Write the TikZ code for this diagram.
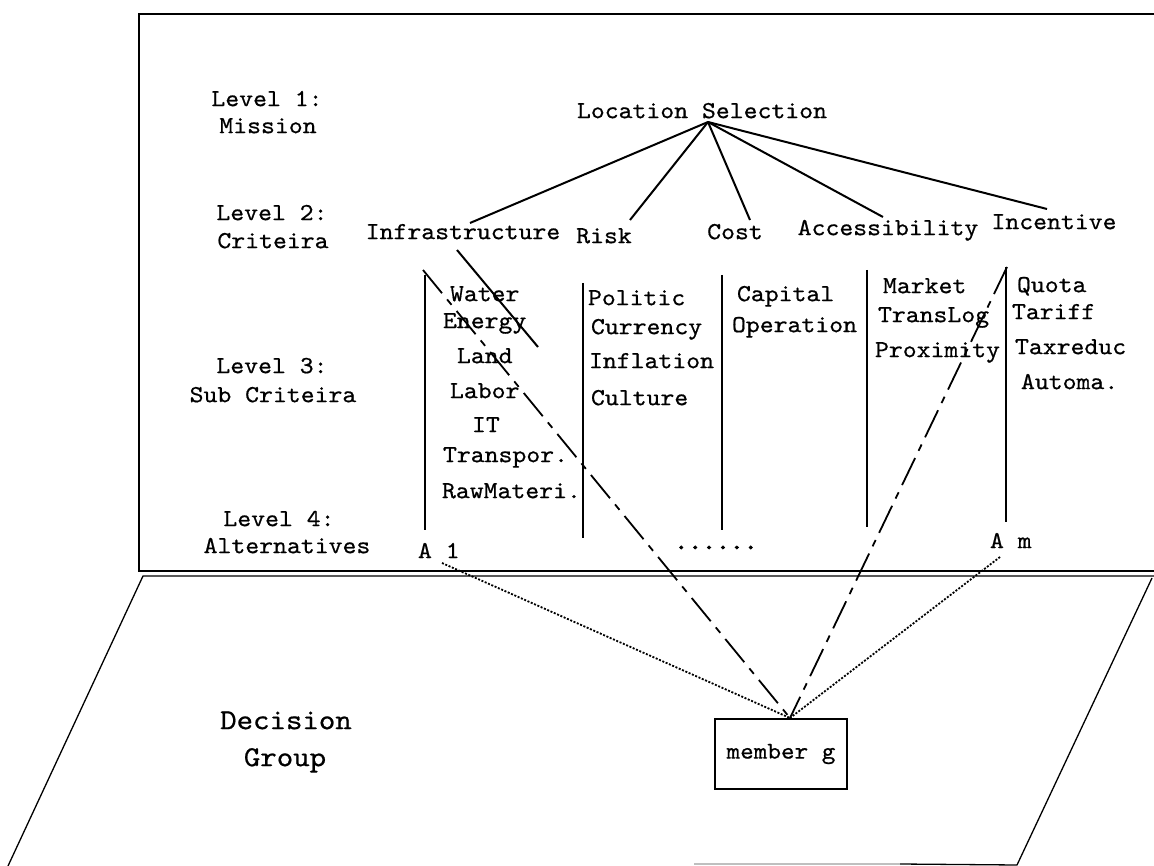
\documentclass[tikz,border=0pt]{standalone}
\usepackage{fontspec}
\newfontfamily\cour[FakeStretch=1.08,FakeBold=0.6]{lmmono10-regular.otf}
\newfontfamily\courdots[FakeStretch=1.08,FakeBold=3]{lmmono10-regular.otf}
\begin{document}
\begin{tikzpicture}[x=1pt,y=-1pt,
  txt/.style={inner sep=0pt,outer sep=0pt,font=\cour\fontsize{24.5}{27}\selectfont},
  big/.style={inner sep=0pt,outer sep=0pt,font=\cour\fontsize{29}{32}\selectfont},
  frame/.style={line width=1.8pt},
  plane/.style={line width=1.3pt},
  fan/.style={line width=2pt},
  vline/.style={line width=2.4pt},
  longdash/.style={line width=1.8pt,dash pattern=on 30pt off 8pt on 7pt off 8pt},
  dots/.style={line width=1.8pt,dash pattern=on 2pt off 1.6pt},
  member/.style={draw,line width=2pt,minimum width=132pt,minimum height=70pt,inner sep=0pt,font=\cour\fontsize{24}{26}\selectfont}]
\useasboundingbox (0,0) rectangle (1154,866);
\fill[white] (0,0) rectangle (1154,866);

% upper frame
\coordinate (fTL) at (139,14);
\coordinate (fTR) at (1154,14);
\coordinate (fBL) at (139,571);
\coordinate (fBR) at (1154,571);
\draw[frame] (fTR) -- (fTL) -- (fBL) -- (fBR);

% decision plane
\coordinate (pTL) at (143,576);
\coordinate (pTR) at (1154,576);
\coordinate (pBL) at (8,866);
\coordinate (pRT) at (1152,578);
\coordinate (pRB) at (1017,865);
\coordinate (pB1) at (694,864);
\coordinate (pB2) at (900,864);
\draw[plane] (pTR) -- (pTL) -- (pBL);
\draw[plane] (pRT) -- (pRB) -- (pB2);
\draw[plane,black!25] (pB2) -- (pB1);

% level labels
\node[txt,anchor=mid] (l1a) at (267,104) {Level 1:};
\node[txt,anchor=mid] (l1b) at (268,131) {Mission};
\node[txt,anchor=mid] (l2a) at (272,218) {Level 2:};
\node[txt,anchor=mid] (l2b) at (273,246) {Criteira};
\node[txt,anchor=mid] (l3a) at (272,371) {Level 3:};
\node[txt,anchor=mid] (l3b) at (273,400) {Sub Criteira};
\node[txt,anchor=mid] (l4a) at (279,524) {Level 4:};
\node[txt,anchor=mid] (l4b) at (287,551) {Alternatives};

% mission and criteria
\node[txt,anchor=mid] (goal) at (702,116) {Location Selection};
\node[txt,anchor=mid] (infra) at (463,237) {Infrastructure};
\node[txt,anchor=mid] (risk) at (604,241) {Risk};
\node[txt,anchor=mid] (cost) at (735,237) {Cost};
\node[txt,anchor=mid] (acc) at (888,233) {Accessibility};
\node[txt,anchor=mid] (inc) at (1054,227) {Incentive};

\coordinate (apexTop) at (708,122);
\coordinate (eInfra) at (470,223);
\coordinate (eRisk) at (630,220);
\coordinate (eCost) at (750,220);
\coordinate (eAcc) at (883,217);
\coordinate (eInc) at (1047,209);
\draw[fan] (apexTop) -- (eInfra);
\draw[fan] (apexTop) -- (eRisk);
\draw[fan] (apexTop) -- (eCost);
\draw[fan] (apexTop) -- (eAcc);
\draw[fan] (apexTop) -- (eInc);

% vertical separators
\coordinate (v1t) at (425,275); \coordinate (v1b) at (425,530);
\coordinate (v2t) at (583,283); \coordinate (v2b) at (583,538);
\coordinate (v3t) at (722,275); \coordinate (v3b) at (722,530);
\coordinate (v4t) at (867,270); \coordinate (v4b) at (867,527);
\coordinate (v5t) at (1006,267); \coordinate (v5b) at (1006,522);
\draw[vline] (v1t) -- (v1b);
\draw[vline] (v2t) -- (v2b);
\draw[vline] (v3t) -- (v3b);
\draw[vline] (v4t) -- (v4b);
\draw[vline] (v5t) -- (v5b);

% sub criteria
\node[txt,anchor=mid west] (s11) at (450,299) {Water};
\node[txt,anchor=mid west] (s12) at (443,326) {Energy};
\node[txt,anchor=mid west] (s13) at (457,361) {Land};
\node[txt,anchor=mid west] (s14) at (450,396) {Labor};
\node[txt,anchor=mid west] (s15) at (472,430) {IT};
\node[txt,anchor=mid west] (s16) at (443,460) {Transpor.};
\node[txt,anchor=mid west] (s17) at (442,496) {RawMateri.};

\node[txt,anchor=mid west] (s21) at (588,303) {Politic};
\node[txt,anchor=mid west] (s22) at (591,332) {Currency};
\node[txt,anchor=mid west] (s23) at (589,366) {Inflation};
\node[txt,anchor=mid west] (s24) at (591,403) {Culture};

\node[txt,anchor=mid west] (s31) at (737,299) {Capital};
\node[txt,anchor=mid west] (s32) at (732,330) {Operation};

\node[txt,anchor=mid west] (s41) at (883,291) {Market};
\node[txt,anchor=mid west] (s42) at (878,320) {TransLog};
\node[txt,anchor=mid west] (s43) at (875,355) {Proximity};

\node[txt,anchor=mid west] (s51) at (1017,290) {Quota};
\node[txt,anchor=mid west] (s52) at (1012,317) {Tariff};
\node[txt,anchor=mid west] (s53) at (1015,352) {Taxreduc};
\node[txt,anchor=mid west] (s54) at (1021,387) {Automa.};

% alternatives
\node[txt,anchor=mid west] (a1) at (418,556) {A 1};
\node[txt,anchor=mid west] (am) at (990,546) {A m};
\node[inner sep=0pt,anchor=base,font=\courdots\fontsize{24.5}{27}\selectfont] (adots) at (716,549) {......};

% decision group
\node[big,anchor=mid] (dg1) at (286,727) {Decision};
\node[big,anchor=mid] (dg2) at (285,764) {Group};
\node[member] (mg) at (781,754) {member g};
\coordinate (apex) at (790,718);

% member links
\coordinate (iStart) at (423,270);
\coordinate (nStart) at (1007,267);
\coordinate (a1foot) at (442,563);
\coordinate (amfoot) at (1000,557);
\coordinate (xStart) at (457,250);
\coordinate (xEnd) at (538,347);
\draw[fan] (xStart) -- (xEnd);
\draw[longdash] (iStart) -- (apex);
\draw[longdash] (nStart) -- (apex);
\draw[dots] (a1foot) -- (apex);
\draw[dots] (amfoot) -- (apex);
\end{tikzpicture}
\end{document}
